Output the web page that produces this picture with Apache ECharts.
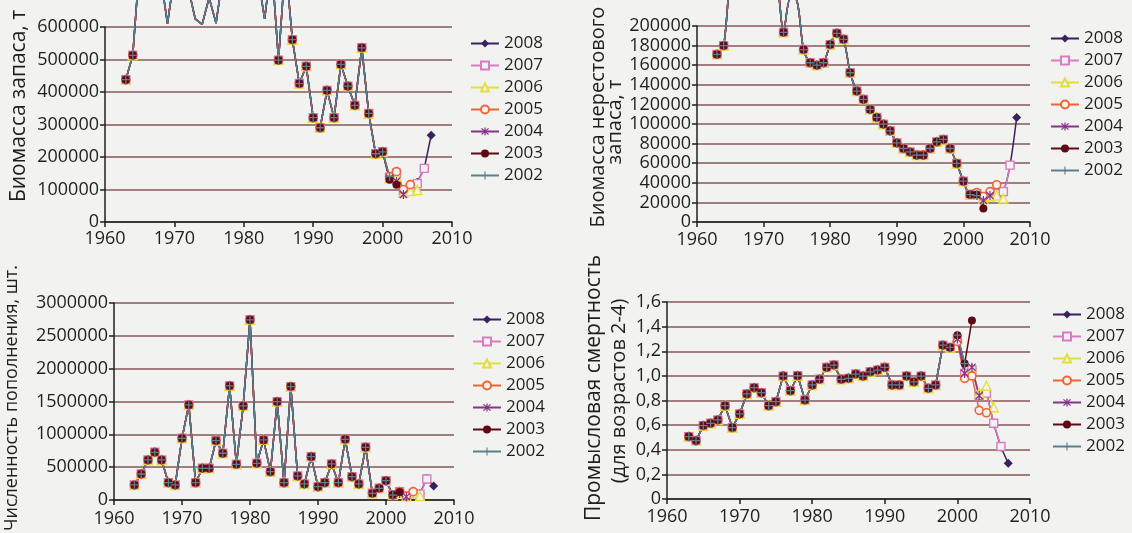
<!DOCTYPE html>
<html>
<head>
<meta charset="utf-8">
<script src="https://cdn.jsdelivr.net/npm/echarts@6/dist/echarts.min.js"></script>
<style>
html,body{margin:0;padding:0;background:#f2f2f0;}
#c{width:1132px;height:533px;}
</style>
</head>
<body>
<div id="c"></div>
<script>
// ---------- DATA ----------
const vintages = ['2008','2007','2006','2005','2004','2003','2002'];
const xTicks = [1960, 1970, 1980, 1990, 2000, 2010];

// Panel 1: stock biomass, t (common history 1963-2000)
const stockHistStart = 1963;
const stockHist = [438000, 513000, 800000, 900000, 850000, 760000, 610000, 760000, 860000, 720000,
  625000, 608000, 690000, 612000, 760000, 900000, 950000, 880000, 820000, 760000,
  625000, 800000, 498000, 800000, 561000, 426000, 479000, 321000, 290000, 405000,
  321000, 485000, 418000, 359000, 536000, 334000, 210000, 216000];
const stockTailStart = 2001;
const stockTails = {
  '2002': [140000],
  '2003': [130000, 115000],
  '2004': [135000, 125000, 85000],
  '2005': [140000, 155000, 100000, 115000],
  '2006': [135000, 140000, 90000, 95000, 98000],
  '2007': [138000, 150000, 92000, 105000, 118000, 165000],
  '2008': [135000, 120000, 95000, 108000, 122000, 165000, 267000]
};

// Panel 2: spawning stock biomass, t (common history 1963-2001)
const ssbHistStart = 1963;
const ssbHist = [171000, 180000, 250000, 275000, 270000, 265000, 260000, 262000, 255000, 245000,
  193600, 228000, 226000, 176000, 162500, 160000, 162500, 181000, 192500, 186400,
  152300, 133600, 125100, 114900, 106700, 99800, 93000, 80700, 75000, 71500,
  68200, 68200, 75000, 81800, 84200, 75000, 59700, 41600, 28000];
const ssbTailStart = 2002;
const ssbTails = {
  '2002': [27000],
  '2003': [28000, 13700],
  '2004': [27000, 22000, 27000],
  '2005': [30000, 26000, 31000, 38000],
  '2006': [28000, 24000, 26000, 27000, 24000],
  '2007': [29000, 24000, 27000, 29000, 31000, 58000],
  '2008': [29600, 23000, 26000, 28000, 31400, 58000, 106700]
};

// Panel 3: recruitment, numbers (common history 1963-2000)
const recHistStart = 1963;
const recHist = [229000, 396000, 610000, 727000, 610000, 264000, 229000, 940000, 1448000, 264000,
  483000, 483000, 904000, 712000, 1738000, 544000, 1433000, 2744000, 559000, 915000,
  431000, 1498000, 264000, 1727000, 366000, 244000, 660000, 203000, 264000, 549000,
  264000, 925000, 355000, 244000, 803000, 102000, 178000, 294000];
const recTailStart = 2001;
const recTails = {
  '2002': [76000],
  '2003': [80000, 120000],
  '2004': [70000, 100000, 50000],
  '2005': [75000, 130000, 60000, 127000],
  '2006': [75000, 120000, 55000, 110000, 60000],
  '2007': [80000, 125000, 55000, 100000, 90000, 320000],
  '2008': [76000, 127000, 50000, 90000, 100000, 330000, 213000]
};

// Panel 4: fishing mortality, ages 2-4 (common history 1963-1999)
const fHistStart = 1963;
const fHist = [0.507, 0.474, 0.596, 0.615, 0.642, 0.758, 0.580, 0.691, 0.853, 0.904,
  0.863, 0.758, 0.790, 0.998, 0.880, 1.001, 0.804, 0.926, 0.972, 1.069,
  1.088, 0.972, 0.980, 1.015, 0.998, 1.033, 1.047, 1.069, 0.926, 0.926,
  0.998, 0.952, 0.998, 0.899, 0.926, 1.249, 1.231];
const fTailStart = 2000;
const fTails = {
  '2002': [1.33, 1.10],
  '2003': [1.33, 1.10, 1.45],
  '2004': [1.30, 1.02, 1.07, 0.84],
  '2005': [1.28, 0.98, 1.00, 0.72, 0.70],
  '2006': [1.30, 1.00, 1.05, 0.86, 0.92, 0.745],
  '2007': [1.30, 1.02, 1.05, 0.84, 0.86, 0.615, 0.426],
  '2008': [1.31, 1.03, 1.06, 0.84, 0.87, 0.61, 0.42, 0.29]
};

const yTicks1 = [0, 600000, 100000];
const yTicks2 = [0, 200000, 20000];
const yTicks3 = [0, 3000000, 500000];
const yTicks4 = [0, 1.6, 0.2];

// ---------- STYLE ----------
const FONT = 'Open Sans';
const TXT = '#1f1f1f';
const BG = '#f2f2f0';
const ASTER = 'path://M4.3,0H5.7V10H4.3Z M0.5,1.5L1.5,0.5L9.5,8.5L8.5,9.5Z M8.5,0.5L9.5,1.5L1.5,9.5L0.5,8.5Z';
const PLUS = 'path://M4.3,0H5.7V10H4.3Z M0,4.3H10V5.7H0Z';
const vStyle = {
  '2008': {c:'#3b1f5e', symbol:'diamond', size:9, fill:'#3b1f5e'},
  '2007': {c:'#d77cbf', symbol:'rect', size:8, fill:BG, bw:1.4},
  '2006': {c:'#e3df3a', symbol:'triangle', size:9, fill:BG, bw:1.4},
  '2005': {c:'#f0643a', symbol:'circle', size:8, fill:BG, bw:1.6},
  '2004': {c:'#86338a', symbol:ASTER, size:9, fill:'#86338a'},
  '2003': {c:'#5e0a16', symbol:'circle', size:8, fill:'#5e0a16'},
  '2002': {c:'#5a808f', symbol:PLUS, size:9, fill:'#5a808f'}
};

// points beyond the axis maximum run off the plot: draw their line, not their marker
function build(histStart, hist, tailStart, tail, yMax) {
  const d = hist.map((v, i) => [histStart + i, v]);
  tail.forEach((v, i) => d.push([tailStart + i, v]));
  return d.map(p => p[1] > yMax ? {value: p, symbol: 'none'} : p);
}

const yDefs = [yTicks1, yTicks2, yTicks3, yTicks4];
const panels = [
  {hs: stockHistStart, h: stockHist, ts: stockTailStart, t: stockTails, clip:false, smooth:false},
  {hs: ssbHistStart, h: ssbHist, ts: ssbTailStart, t: ssbTails, clip:false, smooth:0.3},
  {hs: recHistStart, h: recHist, ts: recTailStart, t: recTails, clip:true, smooth:false},
  {hs: fHistStart, h: fHist, ts: fTailStart, t: fTails, clip:true, smooth:false}
];

const grids = [
  {left:105, top:27, width:347, height:195},
  {left:697, top:26, width:333, height:196},
  {left:114, top:303, width:340, height:197},
  {left:667, top:302, width:363, height:197}
];
const xMargins = [8, 9, 10, 9];

const series = [];
panels.forEach((p, pi) => {
  vintages.forEach(v => {
    const s = vStyle[v];
    series.push({
      name: v,
      type: 'line',
      xAxisIndex: pi, yAxisIndex: pi,
      data: build(p.hs, p.h, p.ts, p.t[v], yDefs[pi][1]),
      clip: p.clip,
      smooth: p.smooth,
      symbol: s.symbol,
      symbolSize: s.size,
      showAllSymbol: true,
      symbolKeepAspect: true,
      color: s.c,
      lineStyle: {color: s.c, width: 1.5},
      itemStyle: {color: s.fill, borderColor: s.c, borderWidth: s.bw || 0},
      emphasis: {disabled: true},
      animation: false
    });
  });
});

const xAxes = grids.map((g, i) => ({
  type: 'value', gridIndex: i, min: xTicks[0], max: xTicks[xTicks.length - 1], interval: 10,
  axisLine: {show: true, onZero: false, lineStyle: {color: TXT, width: 1.5}},
  axisTick: {show: true, length: 5, lineStyle: {color: TXT, width: 1.5}},
  axisLabel: {margin: xMargins[i], fontSize: 18, color: TXT, fontFamily: FONT, formatter: val => String(val)},
  splitLine: {show: false}
}));

const yAxes = yDefs.map((t, i) => ({
  type: 'value', gridIndex: i, min: t[0], max: t[1], interval: t[2],
  axisLine: {show: true, lineStyle: {color: TXT, width: 1.5}},
  axisTick: {show: true, length: 5, lineStyle: {color: TXT, width: 1.5}},
  axisLabel: {
    margin: 6, fontSize: 18, color: TXT, fontFamily: FONT,
    formatter: i === 3 ? (val => val === 0 ? '0' : val.toFixed(1).replace('.', ',')) : (val => String(val))
  },
  splitLine: {show: true, lineStyle: {color: '#87585a', width: 1.5}}
}));

const legendPos = [
  {left: 470, top: 35},
  {left: 1050, top: 30},
  {left: 472, top: 311},
  {left: 1052, top: 306}
];
const legends = legendPos.map(lp => ({
  orient: 'vertical', left: lp.left, top: lp.top, padding: 0,
  itemWidth: 28, itemHeight: 10, itemGap: 5,
  selectedMode: false,
  data: vintages,
  textStyle: {fontSize: 17, lineHeight: 17, color: TXT, fontFamily: FONT}
}));

function vtext(txt, x, y, size) {
  return {type: 'text', x: x, y: y, rotation: Math.PI / 2,
    style: {text: txt, font: size + 'px "' + FONT + '"', fill: TXT, align: 'center', verticalAlign: 'middle'}};
}

const chart = echarts.init(document.getElementById('c'), null, {renderer: 'canvas'});
chart.setOption({
  backgroundColor: BG,
  animation: false,
  grid: grids,
  xAxis: xAxes,
  yAxis: yAxes,
  legend: legends,
  series: series,
  graphic: [
    vtext('Биомасса запаса, т', 19, 106, 21),
    vtext('Биомасса нерестового', 598, 117, 20),
    vtext('запаса, т', 615, 122, 20),
    vtext('Численность пополнения, шт.', 12, 398, 18),
    vtext('Промысловая смертность', 594, 388, 21),
    vtext('(для возрастов 2-4)', 619, 391, 20)
  ]
});
</script>
</body>
</html>
